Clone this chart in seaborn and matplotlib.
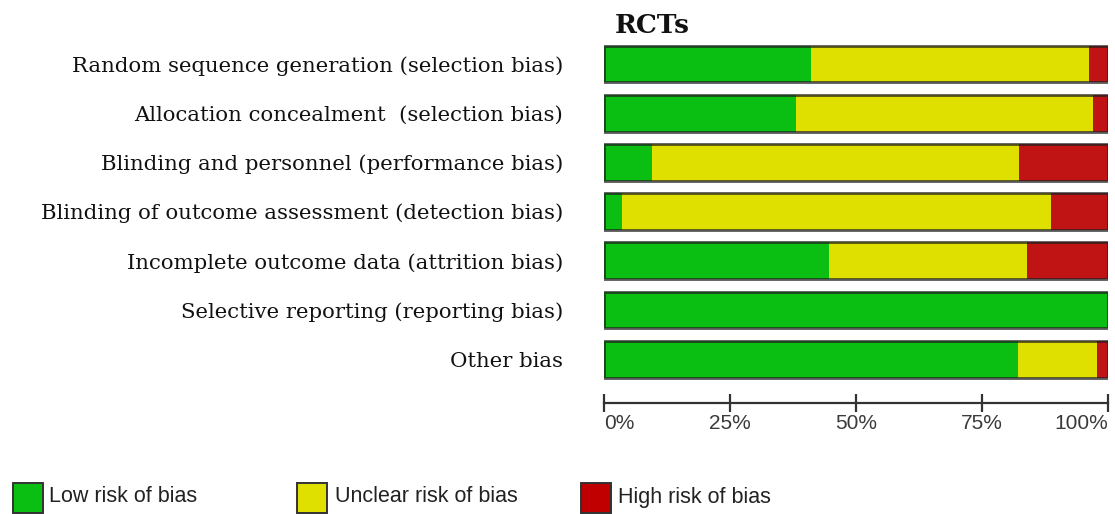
import matplotlib
matplotlib.use("Agg")
import matplotlib.pyplot as plt
from matplotlib.patches import Rectangle
import seaborn as sns
import pandas as pd

categories = [
    "Random sequence generation (selection bias)",
    "Allocation concealment  (selection bias)",
    "Blinding and personnel (performance bias)",
    "Blinding of outcome assessment (detection bias)",
    "Incomplete outcome data (attrition bias)",
    "Selective reporting (reporting bias)",
    "Other bias",
]
low_risk = [41.1, 38.0, 9.5, 3.6, 44.6, 100.0, 82.1]
unclear_risk = [55.2, 59.1, 72.9, 85.1, 39.4, 0.0, 15.8]
high_risk = [3.7, 2.9, 17.6, 11.3, 16.0, 0.0, 2.1]
tick_values = [0, 25, 50, 75, 100]
tick_labels = ["0%", "25%", "50%", "75%", "100%"]
legend_labels = ["Low risk of bias", "Unclear risk of bias", "High risk of bias"]
title = "RCTs"

GREEN = "#0bbf12"
YELLOW = "#e0e000"
RED = "#c01414"

sns.set_style("white")
plt.rcParams["font.family"] = ["DejaVu Sans"]

df = pd.DataFrame({
    "cat": categories,
    "low": low_risk,
    "unclear": unclear_risk,
    "high": high_risk,
})
df["cum_unclear"] = df["low"] + df["unclear"]
df["total"] = df["low"] + df["unclear"] + df["high"]

W, H = 1115, 514
fig = plt.figure(figsize=(W / 100, H / 100), dpi=100)
left_px, right_px, top_px, bot_px = 604.3, 1108.0, 40, 403
ax = fig.add_axes([left_px / W, 1 - bot_px / H, (right_px - left_px) / W, (bot_px - top_px) / H])

bw = 0.75
sns.barplot(data=df, x="total", y="cat", orient="h", color=RED, saturation=1,
            width=bw, linewidth=0, edgecolor="none", ax=ax, errorbar=None)
sns.barplot(data=df, x="cum_unclear", y="cat", orient="h", color=YELLOW, saturation=1,
            width=bw, linewidth=0, edgecolor="none", ax=ax, errorbar=None)
sns.barplot(data=df, x="low", y="cat", orient="h", color=GREEN, saturation=1,
            width=bw, linewidth=0, edgecolor="none", ax=ax, errorbar=None)
sns.barplot(data=df, x="total", y="cat", orient="h", color=(0.12, 0.12, 0.12), saturation=1,
            width=bw, linewidth=2.0, fill=False, ax=ax, errorbar=None, alpha=0.75)

# bar centers at 64 px, spacing 49.2 px
c0, step = 64.0, 49.2
ax.set_ylim((bot_px - c0) / step, (top_px - c0) / step)
ax.set_xlim(0, 100)
ax.set_xlabel("")
ax.set_ylabel("")

for s in ["top", "right", "left"]:
    ax.spines[s].set_visible(False)
ax.spines["bottom"].set_color("#333333")
ax.spines["bottom"].set_linewidth(1.6)

ax.set_xticks(tick_values)
ax.set_xticklabels(tick_labels, fontfamily=["Liberation Sans", "DejaVu Sans"], fontsize=15, color="#3a3a3a")
xt = ax.get_xticklabels()
xt[0].set_horizontalalignment("left")
xt[-1].set_horizontalalignment("right")
ax.tick_params(axis="x", bottom=True, direction="inout", length=12.5, width=1.6, color="#333333", pad=2)
ax.tick_params(axis="y", left=False, length=0, pad=29.5)
for lab in ax.get_yticklabels():
    lab.set_fontfamily(["DejaVu Serif"])
    lab.set_fontsize(15.3)
    lab.set_color("#111111")

fig.text(615 / W, 1 - 33 / H, title, ha="left", va="baseline",
         fontfamily=["DejaVu Serif"], fontweight="bold", fontsize=19, color="#111111")

# legend
leg_colors = [GREEN, YELLOW, "#c00000"]
sq_x = [13, 297, 581]
txt_x = [49, 335, 618]
for x0, tx, col, lab in zip(sq_x, txt_x, leg_colors, legend_labels):
    fig.add_artist(Rectangle((x0 / W, 1 - 513 / H), 30 / W, 30 / H, transform=fig.transFigure,
                             facecolor=col, edgecolor="#333333", linewidth=1.4))
    fig.text(tx / W, 1 - 497 / H, lab, ha="left", va="center",
             fontfamily=["Liberation Sans", "DejaVu Sans"],
             fontsize=15.5, color="#222222")

fig.savefig("out.png", dpi=100, facecolor="white")
